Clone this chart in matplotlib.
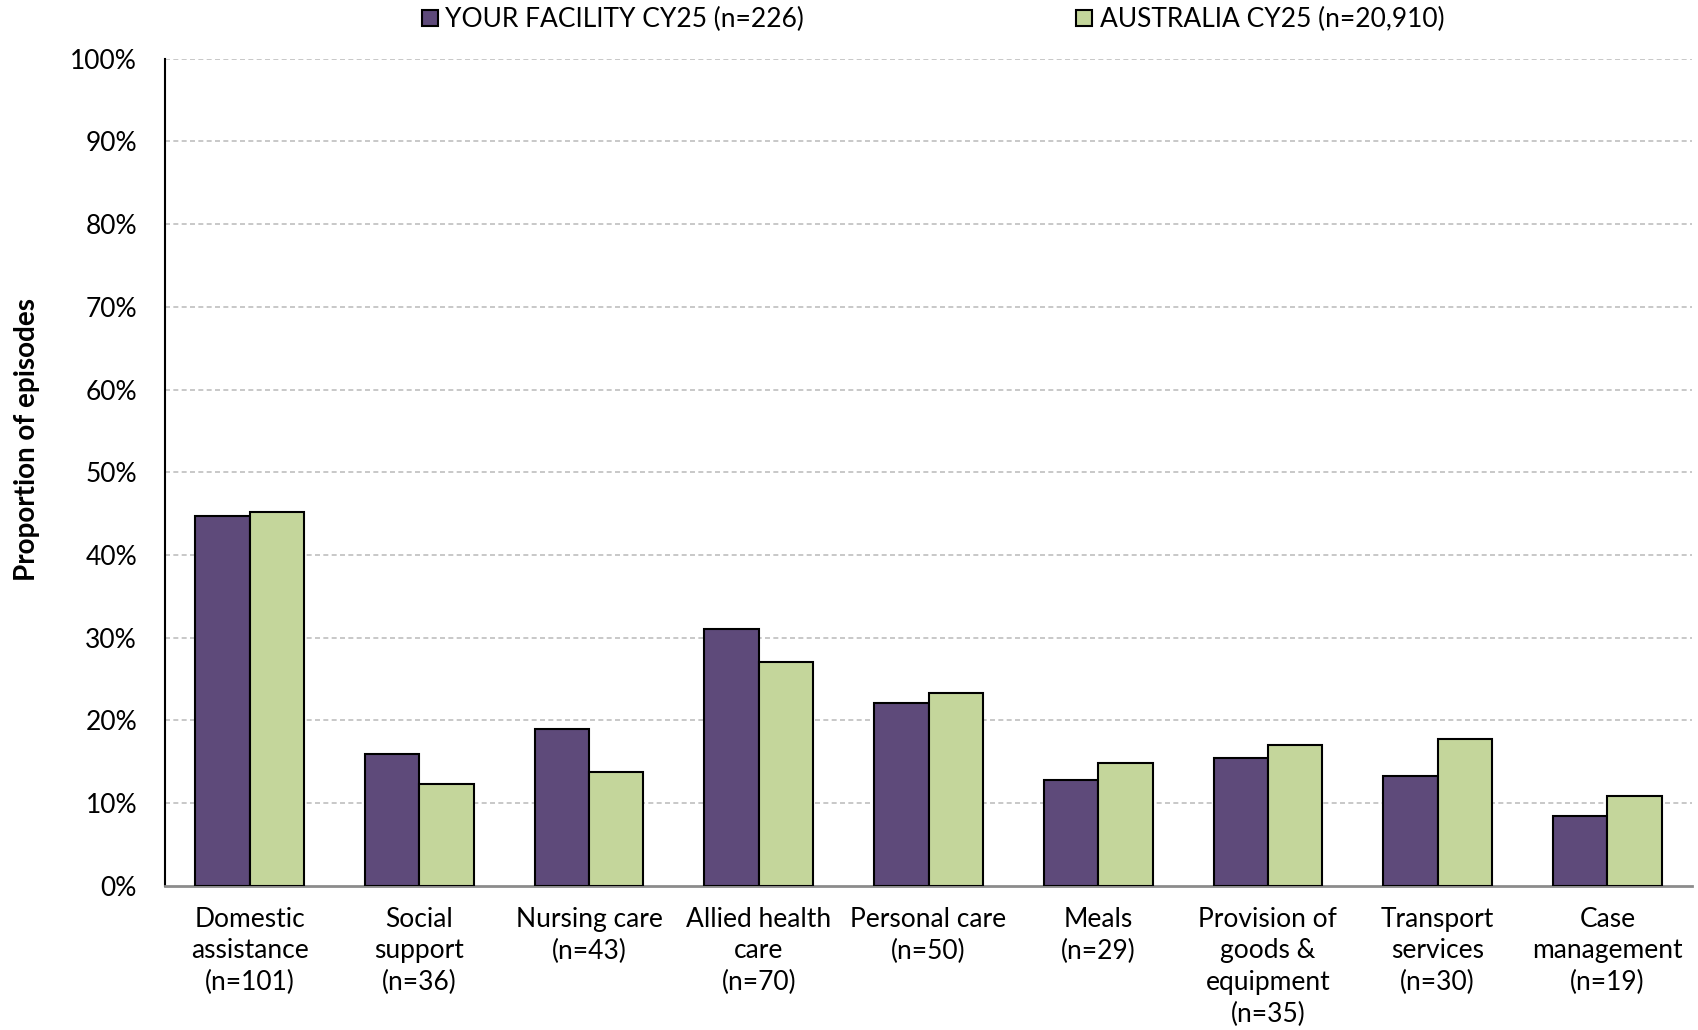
import matplotlib
matplotlib.use("Agg")
import matplotlib.pyplot as plt
import numpy as np
from matplotlib.ticker import FuncFormatter

plt.rcParams['font.family'] = ['Lato', 'DejaVu Sans']

categories = ["Domestic\nassistance\n(n=101)", "Social\nsupport\n(n=36)", "Nursing care\n(n=43)",
              "Allied health\ncare\n(n=70)", "Personal care\n(n=50)", "Meals\n(n=29)",
              "Provision of\ngoods &\nequipment\n(n=35)", "Transport\nservices\n(n=30)",
              "Case\nmanagement\n(n=19)"]
facility = [44.7, 15.9, 19.0, 31.0, 22.1, 12.8, 15.5, 13.3, 8.4]
australia = [45.2, 12.3, 13.7, 27.1, 23.3, 14.9, 17.0, 17.7, 10.9]
series_labels = ["YOUR FACILITY CY25 (n=226)", "AUSTRALIA CY25 (n=20,910)"]
yticks = list(range(0, 101, 10))

purple = "#5E4A7A"
green = "#C4D69B"

fig = plt.figure(figsize=(16.99, 10.30), dpi=100)
ax = fig.add_axes([0.097, 0.140, 0.899, 0.803])

x = np.arange(len(categories))
w = 0.32
ax.bar(x - w/2, facility, w, color=purple, edgecolor="black", linewidth=1.5, label=series_labels[0], zorder=3)
ax.bar(x + w/2, australia, w, color=green, edgecolor="black", linewidth=1.5, label=series_labels[1], zorder=3)

ax.set_xlim(-0.5, len(categories) - 0.5)
ax.set_ylim(0, 100)
ax.set_yticks(yticks)
ax.yaxis.set_major_formatter(FuncFormatter(lambda v, p: f"{int(v)}%"))
for yv in yticks[1:]:
    ax.axhline(yv, color="#BFBFBF", linestyle=(0, (3, 2)), linewidth=1.2, zorder=1)

ax.set_xticks(x)
ax.set_xticklabels(categories, fontsize=19, linespacing=1.34)
ax.tick_params(axis='x', length=0, pad=15)
ax.tick_params(axis='y', length=0, pad=20, labelsize=19)

for s in ['top', 'right']:
    ax.spines[s].set_visible(False)
ax.spines['left'].set_color('black')
ax.spines['left'].set_linewidth(1.5)
ax.spines['bottom'].set_color('#8C8C8C')
ax.spines['bottom'].set_linewidth(2)

ax.set_ylabel("Proportion of episodes", fontsize=20, fontweight='bold')
ax.yaxis.set_label_coords(-0.082, 0.54)

leg = ax.legend(loc='center', bbox_to_anchor=(0.503, 1.047), ncol=2, frameon=False,
                fontsize=19, handlelength=0.6, handleheight=0.6, handletextpad=0.3,
                columnspacing=10.3)

fig.savefig("out.png", dpi=100)
